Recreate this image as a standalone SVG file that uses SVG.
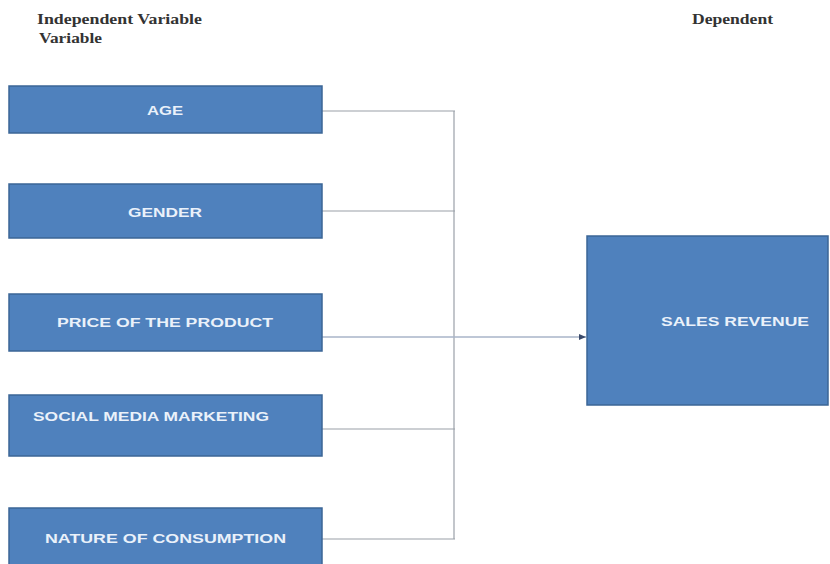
<svg xmlns="http://www.w3.org/2000/svg" width="830" height="564" viewBox="0 0 830 564">
<style>
.box{fill:#4F81BD;stroke:#3B6696;stroke-width:1.5}
.lbl{font-family:"Liberation Sans",Arial,sans-serif;font-weight:bold;font-size:13px;fill:#EAF1FA}
.hdr{font-family:"Liberation Serif","Times New Roman",serif;font-weight:bold;font-size:14px;fill:#333}
.conn{stroke:#9AA0A8;stroke-width:1.2;fill:none}
.arr{stroke:#A9B4C8;stroke-width:1.5;fill:none}
</style>
<defs>
<marker id="ah" markerWidth="8" markerHeight="8" refX="7" refY="4" orient="auto" markerUnits="userSpaceOnUse">
<path d="M0,1 L7,4 L0,7 Z" fill="#3A4A6A"/>
</marker>
</defs>
<rect width="830" height="564" fill="#FFFFFF"/>
<text class="hdr" x="37" y="24" textLength="165" lengthAdjust="spacingAndGlyphs">Independent Variable</text>
<text class="hdr" x="39" y="43" textLength="63" lengthAdjust="spacingAndGlyphs">Variable</text>
<text class="hdr" x="692" y="24" textLength="81" lengthAdjust="spacingAndGlyphs">Dependent</text>
<g id="connectors">
<line class="conn" x1="322" y1="111" x2="455" y2="111"/>
<line class="conn" x1="322" y1="211" x2="455" y2="211"/>
<line class="conn" x1="322" y1="429" x2="455" y2="429"/>
<line class="conn" x1="322" y1="539" x2="455" y2="539"/>
<line class="conn" x1="454" y1="111" x2="454" y2="539"/>
<line class="arr" x1="322" y1="337" x2="586" y2="337" marker-end="url(#ah)"/>
</g>
<g id="age">
<rect class="box" x="9" y="86" width="313" height="47"/>
<text class="lbl" x="147" y="115" textLength="36" lengthAdjust="spacingAndGlyphs">AGE</text>
</g>
<g id="gender">
<rect class="box" x="9" y="184" width="313" height="54"/>
<text class="lbl" x="128" y="217" textLength="74" lengthAdjust="spacingAndGlyphs">GENDER</text>
</g>
<g id="price">
<rect class="box" x="9" y="294" width="313" height="57"/>
<text class="lbl" x="57" y="327" textLength="216" lengthAdjust="spacingAndGlyphs">PRICE OF THE PRODUCT</text>
</g>
<g id="social">
<rect class="box" x="9" y="395" width="313" height="61"/>
<text class="lbl" x="33" y="421" textLength="236" lengthAdjust="spacingAndGlyphs">SOCIAL MEDIA MARKETING</text>
</g>
<g id="nature">
<rect class="box" x="9" y="508" width="313" height="60"/>
<text class="lbl" x="45" y="543" textLength="241" lengthAdjust="spacingAndGlyphs">NATURE OF CONSUMPTION</text>
</g>
<g id="sales">
<rect class="box" x="587" y="236" width="241" height="169"/>
<text class="lbl" x="661" y="326" textLength="148" lengthAdjust="spacingAndGlyphs">SALES REVENUE</text>
</g>
</svg>
